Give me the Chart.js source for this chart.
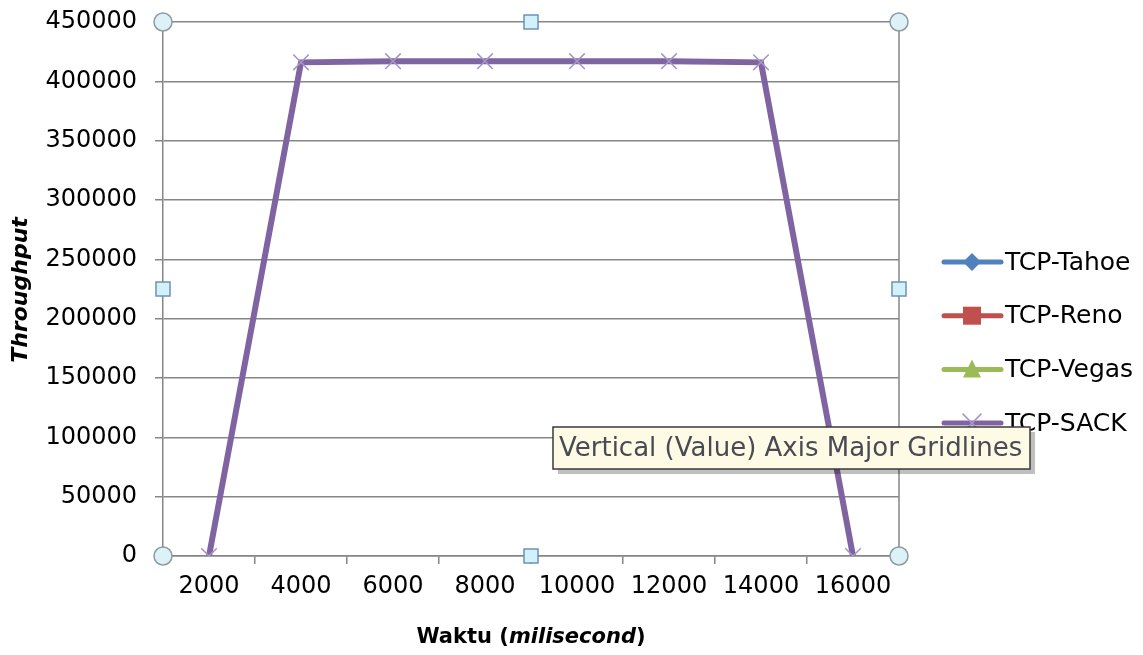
<!DOCTYPE html>
<html>
<head>
<meta charset="utf-8">
<script src="https://cdn.jsdelivr.net/npm/chart.js@4.4.0/dist/chart.umd.min.js"></script>
<style>
  html, body { margin: 0; padding: 0; background: #fff; }
  #wrap { width: 1143px; height: 655px; position: relative; }
</style>
</head>
<body>
<div id="wrap"><canvas id="myCanvas"></canvas></div>
<script>
// data
var waktu = ["2000", "4000", "6000", "8000", "10000", "12000", "14000", "16000"];
var tahoe = [];
var reno = [];
var vegas = [];
var sack = [0, 416000, 417000, 417000, 417000, 417000, 416000, 0];
var seriesNames = ["TCP-Tahoe", "TCP-Reno", "TCP-Vegas", "TCP-SACK"];
var yMax = 450000;
var yStep = 50000;

var FONT = "'DejaVu Sans'";
var AXIS = "#868686";

// legend markers next to each series name
var legendMarks = ["diamond", "square", "triangle", "cross"];

function drawMark(ctx, kind, x, y, color) {
    ctx.save();
    ctx.fillStyle = color;
    ctx.strokeStyle = color;
    if (kind === "diamond") {
        ctx.beginPath();
        ctx.moveTo(x, y - 9); ctx.lineTo(x + 9, y); ctx.lineTo(x, y + 9); ctx.lineTo(x - 9, y);
        ctx.closePath(); ctx.fill();
    } else if (kind === "square") {
        ctx.fillRect(x - 9, y - 9, 18, 18);
    } else if (kind === "triangle") {
        ctx.beginPath();
        ctx.moveTo(x, y - 10); ctx.lineTo(x + 9, y + 8); ctx.lineTo(x - 9, y + 8);
        ctx.closePath(); ctx.fill();
    } else {
        ctx.strokeStyle = "#a594c8";
        ctx.lineWidth = 1.5;
        ctx.beginPath();
        ctx.moveTo(x - 9, y - 9); ctx.lineTo(x + 9, y + 9);
        ctx.moveTo(x + 9, y - 9); ctx.lineTo(x - 9, y + 9);
        ctx.stroke();
    }
    ctx.restore();
}

var extras = {
    id: "extras",
    afterDraw: function (chart) {
        var ctx = chart.ctx;
        var a = chart.chartArea;
        ctx.save();

        // right edge of plot area
        ctx.strokeStyle = AXIS;
        ctx.lineWidth = 1.5;
        ctx.beginPath();
        ctx.moveTo(a.right, a.top); ctx.lineTo(a.right, a.bottom);
        ctx.stroke();

        // axis titles
        ctx.fillStyle = "#000";
        ctx.textBaseline = "middle";
        var t1 = "Waktu (";
        ctx.font = "bold 21px " + FONT;
        var w1 = ctx.measureText(t1).width;
        ctx.font = "bold italic 21px " + FONT;
        var w2 = ctx.measureText("milisecond").width;
        ctx.font = "bold 21px " + FONT;
        var w3 = ctx.measureText(")").width;
        var cx = 531;
        var sx = cx - (w1 + w2 + w3) / 2;
        ctx.textAlign = "left";
        ctx.fillText(t1, sx, 638);
        ctx.font = "bold italic 21px " + FONT;
        ctx.fillText("milisecond", sx + w1, 638);
        ctx.font = "bold 21px " + FONT;
        ctx.fillText(")", sx + w1 + w2, 638);

        ctx.save();
        ctx.translate(21, 290);
        ctx.rotate(-Math.PI / 2);
        ctx.textAlign = "center";
        ctx.font = "bold italic 22px " + FONT;
        ctx.fillText("Throughput", 0, 0);
        ctx.restore();

        // legend
        chart.data.datasets.forEach(function (ds, i) {
            var y = 262 + i * 53.7;
            ctx.strokeStyle = ds.borderColor;
            ctx.lineWidth = 5;
            ctx.lineCap = "round";
            ctx.beginPath();
            ctx.moveTo(944, y); ctx.lineTo(1001, y);
            ctx.stroke();
            drawMark(ctx, legendMarks[i], 972, y, ds.borderColor);
            ctx.fillStyle = "#000";
            ctx.textAlign = "left";
            ctx.font = "25px " + FONT;
            ctx.fillText(ds.label, 1005, y + 1);
        });

        // selection handles
        var midX = (a.left + a.right) / 2, midY = (a.top + a.bottom) / 2;
        [[a.left, a.top], [a.right, a.top], [a.left, a.bottom], [a.right, a.bottom]].forEach(function (p) {
            ctx.beginPath();
            ctx.arc(p[0], p[1], 9, 0, Math.PI * 2);
            ctx.fillStyle = "#dcf2f6";
            ctx.fill();
            ctx.strokeStyle = "#8c9ca4";
            ctx.lineWidth = 1.5;
            ctx.stroke();
        });
        [[midX, a.top], [midX, a.bottom], [a.left, midY], [a.right, midY]].forEach(function (p) {
            ctx.fillStyle = "#d3f1fa";
            ctx.fillRect(p[0] - 7, p[1] - 7, 14, 14);
            ctx.strokeStyle = "#6b93b6";
            ctx.lineWidth = 1.5;
            ctx.strokeRect(p[0] - 7, p[1] - 7, 14, 14);
        });

        // hover tip
        var tip = "Vertical (Value) Axis Major Gridlines";
        ctx.fillStyle = "rgba(0,0,0,0.25)";
        ctx.fillRect(558, 432, 477, 42);
        ctx.fillStyle = "#fdfbe6";
        ctx.fillRect(553, 427, 477, 42);
        ctx.strokeStyle = "#3a3a3a";
        ctx.lineWidth = 1.5;
        ctx.strokeRect(553, 427, 477, 42);
        ctx.fillStyle = "#4a4a52";
        ctx.font = "26px " + FONT;
        ctx.textAlign = "left";
        ctx.fillText(tip, 559, 449);

        ctx.restore();
    }
};

new Chart(document.getElementById("myCanvas"), {
    type: "line",
    data: {
        labels: waktu,
        datasets: [
            { label: seriesNames[0], data: tahoe, borderColor: "#4f81bd", backgroundColor: "#4f81bd" },
            { label: seriesNames[1], data: reno, borderColor: "#c0504d", backgroundColor: "#c0504d" },
            { label: seriesNames[2], data: vegas, borderColor: "#9bbb59", backgroundColor: "#9bbb59" },
            {
                label: seriesNames[3], data: sack,
                borderColor: "#8064a2", backgroundColor: "#8064a2",
                borderWidth: 6, tension: 0,
                pointStyle: "crossRot", pointRadius: 11,
                pointBorderColor: "#a594c8", pointBorderWidth: 1.5
            }
        ]
    },
    options: {
        responsive: true,
        maintainAspectRatio: false,
        animation: false,
        layout: { autoPadding: false, padding: { top: 22, right: 244, left: 0, bottom: 0 } },
        plugins: { legend: { display: false }, tooltip: { enabled: false } },
        scales: {
            x: {
                offset: true,
                grid: { offset: true, drawOnChartArea: false, drawTicks: true, tickLength: 8, tickColor: AXIS, lineWidth: 1.5 },
                border: { color: AXIS, width: 1.5 },
                ticks: { color: "#000", font: { family: FONT, size: 24 }, padding: 8, maxRotation: 0, autoSkip: false },
                afterFit: function (s) { s.height = 655 - 556; s.paddingLeft = 0; s.paddingRight = 0; }
            },
            y: {
                min: 0, max: yMax,
                grid: { color: AXIS, lineWidth: 1.5, tickLength: 8, tickColor: AXIS },
                border: { color: AXIS, width: 1.5 },
                ticks: {
                    stepSize: yStep, color: "#000", font: { family: FONT, size: 24 }, padding: 18,
                    callback: function (v) { return String(v); }
                },
                afterFit: function (s) { s.width = 163; s.paddingTop = 0; s.paddingBottom = 0; }
            }
        }
    },
    plugins: [extras]
});
</script>
</body>
</html>
